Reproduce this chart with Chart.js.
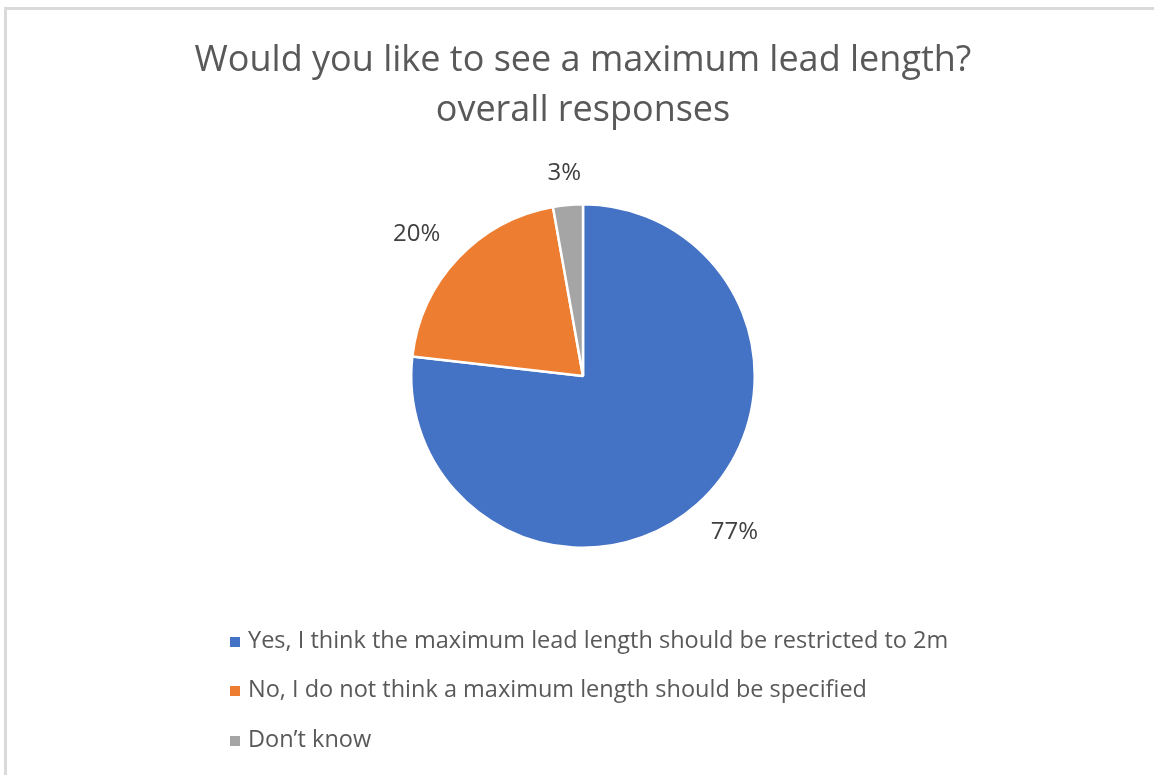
<!DOCTYPE html>
<html><head><meta charset="utf-8">
<script src="https://cdn.jsdelivr.net/npm/chart.js@4.4.0/dist/chart.umd.min.js"></script>
<style>
html,body{margin:0;padding:0;background:#fff;}
#wrap{position:relative;width:1154px;height:775px;overflow:hidden;background:#fff;}
#frame{position:absolute;left:4px;top:7px;width:1200px;height:800px;border-top:3px solid #dadada;border-left:3px solid #dadada;}
canvas{position:absolute;left:0;top:0;}
</style></head><body>
<div id="wrap"><div id="frame"></div><canvas id="c" width="1154" height="775"></canvas></div>
<script>
const titleLines = ['Would you like to see a maximum lead length?', 'overall responses'];
const categories = [
  'Yes, I think the maximum lead length should be restricted to 2m',
  'No, I do not think a maximum length should be specified',
  'Don\u2019t know'
];
const values = [76.8, 20.4, 2.8];
const colors = ['#4472C4', '#ED7D31', '#A5A5A5'];

const FONT = '"Open Sans", "Noto Sans", sans-serif';

const overlay = {
  id: 'overlay',
  afterDraw(chart) {
    const ctx = chart.ctx;
    const meta = chart.getDatasetMeta(0);
    const data = chart.data.datasets[0].data;
    const total = data.reduce((a, b) => a + b, 0);
    ctx.save();
    // title
    ctx.fillStyle = '#595959';
    ctx.textAlign = 'center';
    ctx.textBaseline = 'alphabetic';
    ctx.font = '36px ' + FONT;
    const cx = (chart.chartArea.left + chart.chartArea.right) / 2;
    ctx.fillText(titleLines[0], cx, 71);
    ctx.fillText(titleLines[1], cx, 121);
    // data labels
    ctx.fillStyle = '#404040';
    ctx.font = '24px ' + FONT;
    ctx.textBaseline = 'middle';
    meta.data.forEach((arc, i) => {
      const p = arc.getProps(['x', 'y', 'startAngle', 'endAngle', 'outerRadius'], true);
      const mid = (p.startAngle + p.endAngle) / 2;
      const dx = Math.cos(mid), dy = Math.sin(mid);
      const txt = Math.round(data[i] / total * 100) + '%';
      const w = ctx.measureText(txt).width, h = 18;
      const m = Math.max(Math.abs(dx), Math.abs(dy));
      const d = p.outerRadius + 24;
      ctx.fillText(txt, p.x + dx * d + dx / m * w / 2, p.y + dy * d + dy / m * h / 2 + 1);
    });
    // legend
    ctx.font = '23.5px ' + FONT;
    ctx.textAlign = 'left';
    ctx.textBaseline = 'alphabetic';
    let maxW = 0;
    chart.data.labels.forEach(l => { maxW = Math.max(maxW, ctx.measureText(l).width); });
    const box = 10, gap = 8;
    const blockW = box + gap + maxW;
    const x0 = Math.round(cx + 6 - blockW / 2);
    chart.data.labels.forEach((l, i) => {
      const y = 642 + i * 49.3;
      ctx.fillStyle = colors[i];
      ctx.fillRect(x0, Math.round(y - box / 2), box, box);
      ctx.fillStyle = '#595959';
      ctx.fillText(l, x0 + box + gap, y + 6);
    });
    ctx.restore();
  }
};

new Chart(document.getElementById('c'), {
  type: 'pie',
  data: {
    labels: categories,
    datasets: [{
      data: values,
      backgroundColor: colors,
      borderColor: '#ffffff',
      borderWidth: 2.5
    }]
  },
  options: {
    responsive: false,
    animation: false,
    layout: { padding: { top: 203, bottom: 226, left: 300, right: 288 } },
    plugins: { legend: { display: false }, title: { display: false }, tooltip: { enabled: false } }
  },
  plugins: [overlay]
});
</script>
</body></html>
